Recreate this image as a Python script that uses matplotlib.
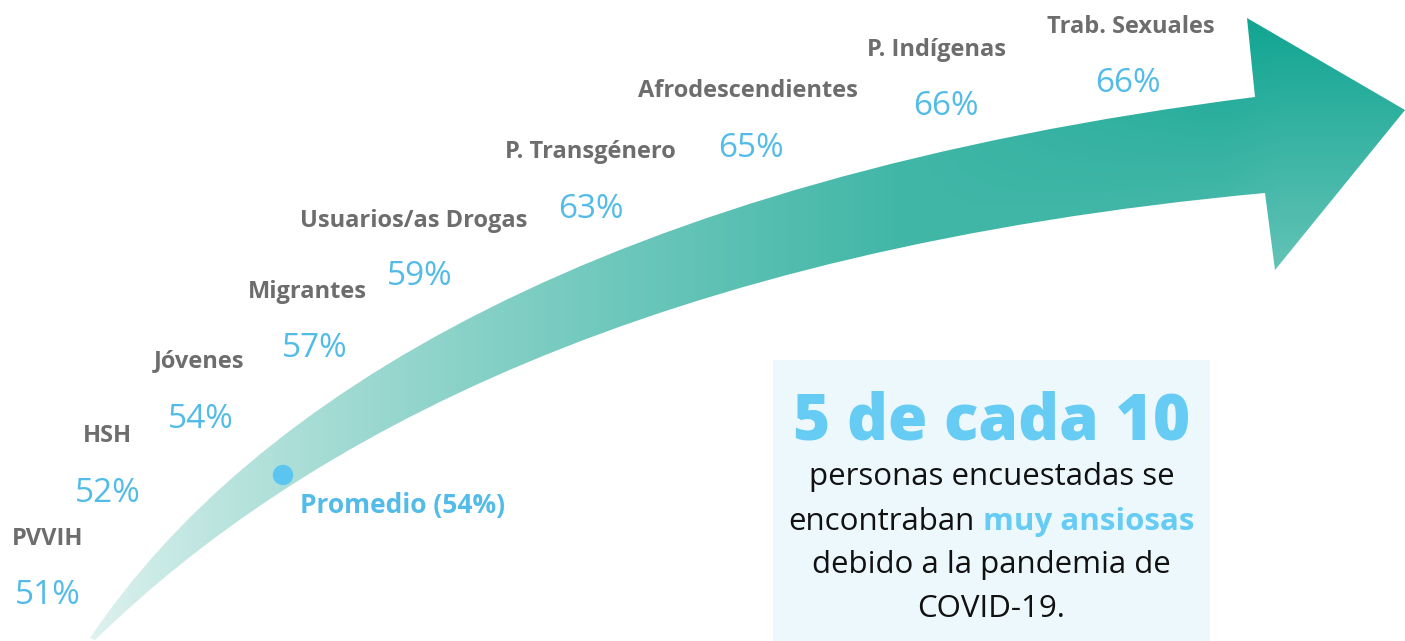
import matplotlib
matplotlib.use("Agg")
import matplotlib.pyplot as plt
import numpy as np
from matplotlib.path import Path
from matplotlib.patches import PathPatch, Circle, Rectangle
from matplotlib.colors import to_rgb

# data
groups = ["PVVIH", "HSH", "Jóvenes", "Migrantes", "Usuarios/as Drogas",
          "P. Transgénero", "Afrodescendientes", "P. Indígenas", "Trab. Sexuales"]
values = [51, 52, 54, 57, 59, 63, 65, 66, 66]
promedio = 54

# layout (pixel coords, left x / baseline y) for each group label and its value
label_pos = [(12, 545), (83, 442), (154, 367), (248, 298), (300, 227),
             (505, 158), (638, 97), (867, 56), (1047, 33)]
value_pos = [(15, 604), (75, 502), (168, 428), (282, 357), (387, 285),
             (558, 218), (718, 157), (913, 115), (1095, 92)]

W, H = 1405, 641
fig = plt.figure(figsize=(W / 100, H / 100), dpi=100)
ax = fig.add_axes([0, 0, 1, 1])
ax.set_xlim(0, W)
ax.set_ylim(H, 0)
ax.axis("off")

# curved arrow: upper edge, head, lower edge back to the tail
verts = [(90, 638), (250, 400), (600, 180), (1255, 97),
         (1247, 18), (1405, 110), (1275, 270), (1265, 193),
         (650, 250), (300, 440), (95, 640), (90, 638)]
codes = [Path.MOVETO, Path.CURVE4, Path.CURVE4, Path.CURVE4,
         Path.LINETO, Path.LINETO, Path.LINETO, Path.LINETO,
         Path.CURVE4, Path.CURVE4, Path.CURVE4, Path.CLOSEPOLY]
arrow = PathPatch(Path(verts, codes), facecolor="none", edgecolor="none")
ax.add_patch(arrow)

X, Y = np.meshgrid(np.arange(W) + 0.5, np.arange(H) + 0.5)
s = np.clip((X - 70) / 1150, 0, 1) ** 0.75
s = s * (1 - 0.42 * np.clip((Y - 20) / 280, 0, 1) * np.clip((X - 900) / 380, 0, 1))
pale = np.array(to_rgb("#eaf6f4"))
dark = np.array(to_rgb("#12a592"))
img = pale[None, None, :] * (1 - s[..., None]) + dark[None, None, :] * s[..., None]
im = ax.imshow(img, extent=(0, W, H, 0), interpolation="bilinear", zorder=1)
im.set_clip_path(arrow)

gray = "#6d6d6d"
blue = "#52bbe8"
for g, v, (lx, ly), (vx, vy) in zip(groups, values, label_pos, value_pos):
    ax.text(lx, ly, g, fontsize=17, fontweight="bold", family="Open Sans",
            color=gray, ha="left", va="baseline", zorder=3)
    ax.text(vx, vy, f"{v}%", fontsize=24, family="Open Sans",
            color=blue, ha="left", va="baseline", zorder=3)

# average marker
ax.add_patch(Circle((283, 475), 9.5, color="#5cc4f0", zorder=4))
ax.text(300, 513, f"Promedio ({promedio}%)", fontsize=19, fontweight="bold",
        family="Open Sans", color=blue, ha="left", va="baseline", zorder=3)

# callout box
ax.add_patch(Rectangle((773, 360), 437, 281, facecolor="#edf8fd",
                       edgecolor="none", zorder=2))
cx = 991.5
ax.text(cx, 440, "5 de cada 10", fontsize=46, fontweight="heavy",
        family="Open Sans", color="#66ccf4", ha="center", va="baseline", zorder=3)
body = dict(fontsize=22.5, family="Open Sans", color="#111111", va="baseline", zorder=3)
ax.text(cx, 485, "personas encuestadas se", ha="center", **body)
t1 = ax.text(0, 530, "encontraban", ha="left", **body)
t2 = ax.text(0, 530, "muy ansiosas", ha="left", fontsize=22.5, family="Open Sans",
             fontweight="bold", color="#66ccf4", va="baseline", zorder=3)
ax.text(cx, 573, "debido a la pandemia de", ha="center", **body)
ax.text(cx, 617, "COVID-19.", ha="center", **body)

fig.canvas.draw()
r = fig.canvas.get_renderer()
w1 = t1.get_window_extent(r).width
w2 = t2.get_window_extent(r).width
gap = 9
x0 = cx - (w1 + gap + w2) / 2
t1.set_x(x0)
t2.set_x(x0 + w1 + gap)

fig.savefig("out.png", dpi=100)
